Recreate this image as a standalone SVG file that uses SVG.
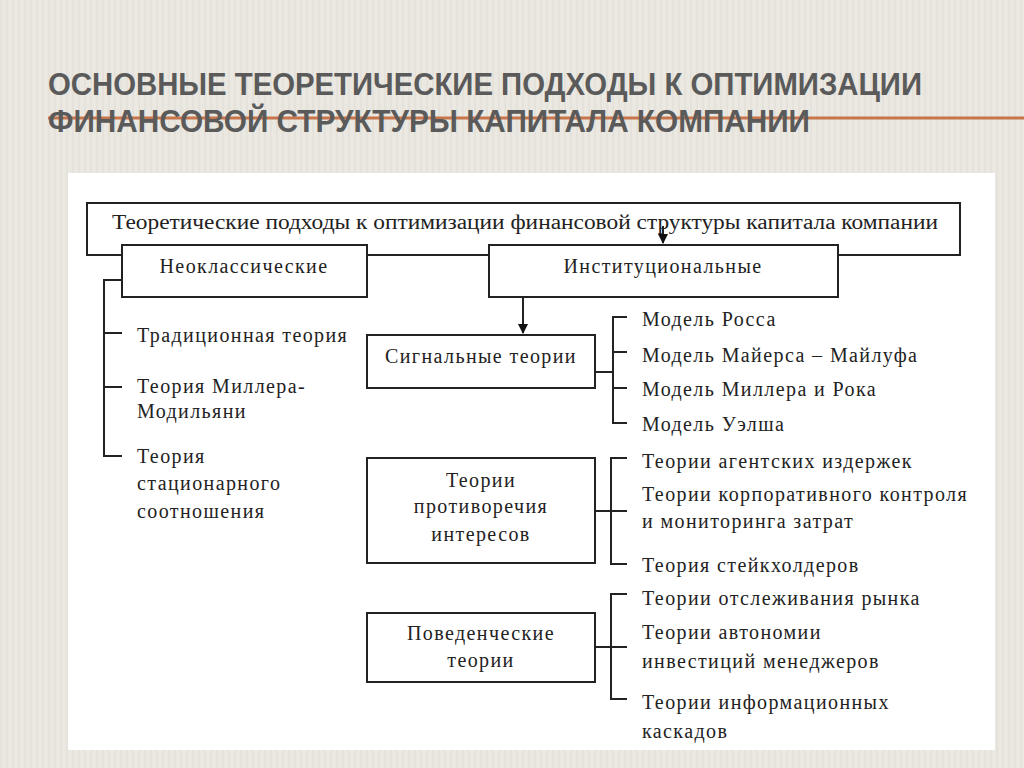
<svg xmlns="http://www.w3.org/2000/svg" width="1024" height="768" viewBox="0 0 1024 768">
<defs>
<pattern id="stripes" width="6" height="768" patternUnits="userSpaceOnUse">
<rect width="6" height="768" fill="#ebe8e1"/>
<line x1="1" y1="0" x2="1" y2="768" stroke="#e0ddd5" stroke-width="1"/>
</pattern>
<marker id="arr" viewBox="0 0 10 10" refX="9" refY="5" markerWidth="5" markerHeight="5" orient="auto">
<path d="M0,0 L10,5 L0,10 z" fill="#111"/>
</marker>
</defs>
<style>
.title{font-family:"Liberation Sans",Arial,sans-serif;font-size:31px;font-weight:bold;fill:#5a5a5a}
.box{fill:#fff;stroke:#222;stroke-width:2}
.t{font-family:"Liberation Serif","Times New Roman",serif;font-size:20px;letter-spacing:1.4px;fill:#222}
.c{text-anchor:middle}
.ln{fill:none;stroke:#222;stroke-width:2}
</style>
<rect width="1024" height="768" fill="url(#stripes)"/>
<line x1="48" y1="118" x2="1024" y2="118" stroke="#c8754c" stroke-width="3"/>
<text class="title" x="48" y="95" textLength="874" lengthAdjust="spacingAndGlyphs">ОСНОВНЫЕ ТЕОРЕТИЧЕСКИЕ ПОДХОДЫ К ОПТИМИЗАЦИИ</text>
<text class="title" x="48" y="132" textLength="762" lengthAdjust="spacingAndGlyphs">ФИНАНСОВОЙ СТРУКТУРЫ КАПИТАЛА КОМПАНИИ</text>
<rect x="68" y="173" width="927" height="577" fill="#fff"/>

<g id="connectors">
<path class="ln" d="M663 226 V243" marker-end="url(#arr)"/>
<path class="ln" d="M523 297 V333" marker-end="url(#arr)" stroke-width="3"/>
<path class="ln" d="M122 280 H104 V456 H122 M104 333 H122 M104 387 H122"/>
<path class="ln" d="M595 372 H613 M627 317 H613 V423 H627 M613 352 H627 M613 388 H627"/>
<path class="ln" d="M595 511 H627 M627 458 H611 V564 H627"/>
<path class="ln" d="M595 647 H627 M627 594 H611 V699 H627"/>
</g>

<g id="root">
<path class="ln" d="M122 255 H87 V203 H960 V255 H838 M367 255 H489" />
<text class="t" x="525" y="229" textLength="826" lengthAdjust="spacingAndGlyphs" text-anchor="middle" style="letter-spacing:0">Теоретические подходы к оптимизации финансовой структуры капитала компании</text>
</g>
<g id="neo">
<rect class="box" x="122" y="245" width="245" height="52"/>
<text class="t c" x="244" y="273">Неоклассические</text>
</g>
<g id="inst">
<rect class="box" x="489" y="245" width="349" height="52"/>
<text class="t c" x="663" y="273">Институциональные</text>
</g>
<g id="neo-items">
<text class="t" x="137" y="342">Традиционная теория</text>
<text class="t" x="137" y="393">Теория Миллера-</text>
<text class="t" x="137" y="418">Модильяни</text>
<text class="t" x="137" y="463">Теория</text>
<text class="t" x="137" y="490">стационарного</text>
<text class="t" x="137" y="518">соотношения</text>
</g>
<g id="signal">
<rect class="box" x="367" y="335" width="228" height="53"/>
<text class="t c" x="481" y="363">Сигнальные теории</text>
</g>
<g id="signal-items">
<text class="t" x="642" y="326">Модель Росса</text>
<text class="t" x="642" y="362">Модель Майерса – Майлуфа</text>
<text class="t" x="642" y="396">Модель Миллера и Рока</text>
<text class="t" x="642" y="431">Модель Уэлша</text>
</g>
<g id="conflict">
<rect class="box" x="367" y="458" width="228" height="105"/>
<text class="t c" x="481" y="487">Теории</text>
<text class="t c" x="481" y="513">противоречия</text>
<text class="t c" x="481" y="541">интересов</text>
</g>
<g id="conflict-items">
<text class="t" x="642" y="468">Теории агентских издержек</text>
<text class="t" x="642" y="501">Теории корпоративного контроля</text>
<text class="t" x="642" y="528">и мониторинга затрат</text>
<text class="t" x="642" y="572">Теория стейкхолдеров</text>
</g>
<g id="behav">
<rect class="box" x="367" y="613" width="228" height="69"/>
<text class="t c" x="481" y="640">Поведенческие</text>
<text class="t c" x="481" y="667">теории</text>
</g>
<g id="behav-items">
<text class="t" x="642" y="605">Теории отслеживания рынка</text>
<text class="t" x="642" y="639">Теории автономии</text>
<text class="t" x="642" y="668">инвестиций менеджеров</text>
<text class="t" x="642" y="709">Теории информационных</text>
<text class="t" x="642" y="738">каскадов</text>
</g>
</svg>
